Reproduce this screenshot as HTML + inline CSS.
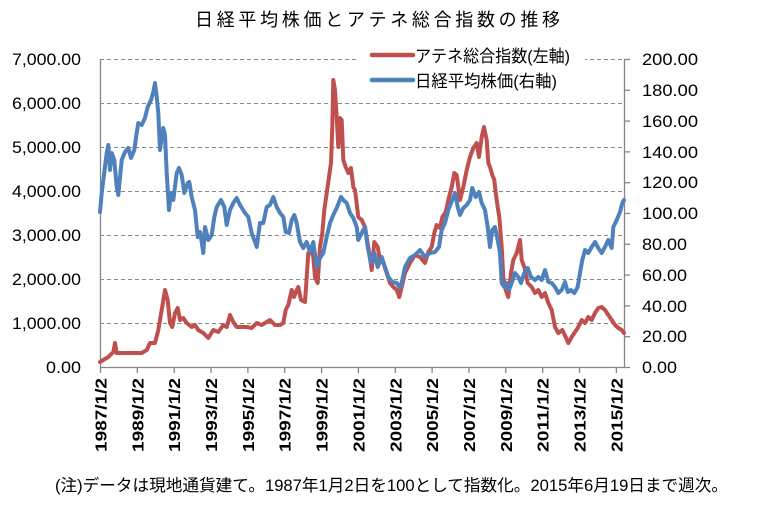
<!DOCTYPE html>
<html>
<head>
<meta charset="utf-8">
<style>
  html, body { margin:0; padding:0; background:#fff; }
  svg { display:block; }
  text { font-family: "Liberation Sans", "Noto Sans CJK JP", sans-serif; fill:#000; }
</style>
</head>
<body>
<svg width="762" height="509" viewBox="0 0 762 509" xmlns="http://www.w3.org/2000/svg">
  <rect x="0" y="0" width="762" height="509" fill="#fff"/>

  <!-- Title -->
  <text x="195" y="26" font-size="18" textLength="365" lengthAdjust="spacing">日経平均株価とアテネ総合指数の推移</text>

  <!-- Gridlines -->
  <g stroke="#888" stroke-width="1" stroke-dasharray="4,3">
    <line x1="100" y1="59.5" x2="624" y2="59.5"/>
    <line x1="100" y1="103.5" x2="624" y2="103.5"/>
    <line x1="100" y1="147.5" x2="624" y2="147.5"/>
    <line x1="100" y1="191.5" x2="624" y2="191.5"/>
    <line x1="100" y1="235.5" x2="624" y2="235.5"/>
    <line x1="100" y1="279.5" x2="624" y2="279.5"/>
    <line x1="100" y1="323.5" x2="624" y2="323.5"/>
  </g>

  <!-- Axes -->
  <g stroke="#868686" stroke-width="1.3">
    <line x1="100.5" y1="59" x2="100.5" y2="367"/>
    <line x1="624.5" y1="59" x2="624.5" y2="367"/>
    <line x1="100" y1="367.5" x2="624" y2="367.5"/>
    <!-- right ticks -->
    <line x1="624" y1="59.5" x2="630" y2="59.5"/>
    <line x1="624" y1="90.3" x2="630" y2="90.3"/>
    <line x1="624" y1="121.1" x2="630" y2="121.1"/>
    <line x1="624" y1="151.9" x2="630" y2="151.9"/>
    <line x1="624" y1="182.7" x2="630" y2="182.7"/>
    <line x1="624" y1="213.5" x2="630" y2="213.5"/>
    <line x1="624" y1="244.3" x2="630" y2="244.3"/>
    <line x1="624" y1="275.1" x2="630" y2="275.1"/>
    <line x1="624" y1="305.9" x2="630" y2="305.9"/>
    <line x1="624" y1="336.7" x2="630" y2="336.7"/>
    <line x1="624" y1="367.5" x2="630" y2="367.5"/>
    <!-- bottom ticks -->
    <line x1="100.5" y1="367" x2="100.5" y2="373"/>
    <line x1="137.3" y1="367" x2="137.3" y2="373"/>
    <line x1="174.2" y1="367" x2="174.2" y2="373"/>
    <line x1="211" y1="367" x2="211" y2="373"/>
    <line x1="247.9" y1="367" x2="247.9" y2="373"/>
    <line x1="284.7" y1="367" x2="284.7" y2="373"/>
    <line x1="321.6" y1="367" x2="321.6" y2="373"/>
    <line x1="358.4" y1="367" x2="358.4" y2="373"/>
    <line x1="395.3" y1="367" x2="395.3" y2="373"/>
    <line x1="432.1" y1="367" x2="432.1" y2="373"/>
    <line x1="469" y1="367" x2="469" y2="373"/>
    <line x1="505.8" y1="367" x2="505.8" y2="373"/>
    <line x1="542.7" y1="367" x2="542.7" y2="373"/>
    <line x1="579.5" y1="367" x2="579.5" y2="373"/>
    <line x1="616.4" y1="367" x2="616.4" y2="373"/>
  </g>

  <!-- Left labels -->
  <g font-size="16.5" text-anchor="end">
    <text x="81" y="65" textLength="69" lengthAdjust="spacingAndGlyphs">7,000.00</text>
    <text x="81" y="109" textLength="69" lengthAdjust="spacingAndGlyphs">6,000.00</text>
    <text x="81" y="153" textLength="69" lengthAdjust="spacingAndGlyphs">5,000.00</text>
    <text x="81" y="197" textLength="69" lengthAdjust="spacingAndGlyphs">4,000.00</text>
    <text x="81" y="241" textLength="69" lengthAdjust="spacingAndGlyphs">3,000.00</text>
    <text x="81" y="285" textLength="69" lengthAdjust="spacingAndGlyphs">2,000.00</text>
    <text x="81" y="329" textLength="69" lengthAdjust="spacingAndGlyphs">1,000.00</text>
    <text x="81" y="373" textLength="35" lengthAdjust="spacingAndGlyphs">0.00</text>
  </g>

  <!-- Right labels -->
  <g font-size="16.5">
    <text x="642" y="65" textLength="56" lengthAdjust="spacingAndGlyphs">200.00</text>
    <text x="642" y="96" textLength="56" lengthAdjust="spacingAndGlyphs">180.00</text>
    <text x="642" y="127" textLength="56" lengthAdjust="spacingAndGlyphs">160.00</text>
    <text x="642" y="158" textLength="56" lengthAdjust="spacingAndGlyphs">140.00</text>
    <text x="642" y="188" textLength="56" lengthAdjust="spacingAndGlyphs">120.00</text>
    <text x="642" y="219" textLength="56" lengthAdjust="spacingAndGlyphs">100.00</text>
    <text x="642" y="250" textLength="45" lengthAdjust="spacingAndGlyphs">80.00</text>
    <text x="642" y="281" textLength="45" lengthAdjust="spacingAndGlyphs">60.00</text>
    <text x="642" y="312" textLength="45" lengthAdjust="spacingAndGlyphs">40.00</text>
    <text x="642" y="342" textLength="45" lengthAdjust="spacingAndGlyphs">20.00</text>
    <text x="642" y="373" textLength="35" lengthAdjust="spacingAndGlyphs">0.00</text>
  </g>

  <!-- X labels -->
  <g font-size="16" font-weight="bold" text-anchor="end">
    <text transform="translate(106.5,378) rotate(-90)" textLength="74" lengthAdjust="spacingAndGlyphs">1987/1/2</text>
    <text transform="translate(143.3,378) rotate(-90)" textLength="74" lengthAdjust="spacingAndGlyphs">1989/1/2</text>
    <text transform="translate(180.2,378) rotate(-90)" textLength="74" lengthAdjust="spacingAndGlyphs">1991/1/2</text>
    <text transform="translate(217,378) rotate(-90)" textLength="74" lengthAdjust="spacingAndGlyphs">1993/1/2</text>
    <text transform="translate(253.9,378) rotate(-90)" textLength="74" lengthAdjust="spacingAndGlyphs">1995/1/2</text>
    <text transform="translate(290.7,378) rotate(-90)" textLength="74" lengthAdjust="spacingAndGlyphs">1997/1/2</text>
    <text transform="translate(327.6,378) rotate(-90)" textLength="74" lengthAdjust="spacingAndGlyphs">1999/1/2</text>
    <text transform="translate(364.4,378) rotate(-90)" textLength="74" lengthAdjust="spacingAndGlyphs">2001/1/2</text>
    <text transform="translate(401.3,378) rotate(-90)" textLength="74" lengthAdjust="spacingAndGlyphs">2003/1/2</text>
    <text transform="translate(438.1,378) rotate(-90)" textLength="74" lengthAdjust="spacingAndGlyphs">2005/1/2</text>
    <text transform="translate(475,378) rotate(-90)" textLength="74" lengthAdjust="spacingAndGlyphs">2007/1/2</text>
    <text transform="translate(511.8,378) rotate(-90)" textLength="74" lengthAdjust="spacingAndGlyphs">2009/1/2</text>
    <text transform="translate(548.7,378) rotate(-90)" textLength="74" lengthAdjust="spacingAndGlyphs">2011/1/2</text>
    <text transform="translate(585.5,378) rotate(-90)" textLength="74" lengthAdjust="spacingAndGlyphs">2013/1/2</text>
    <text transform="translate(622.4,378) rotate(-90)" textLength="74" lengthAdjust="spacingAndGlyphs">2015/1/2</text>
  </g>

  <!-- Red series (Athens) -->
  <polyline fill="none" stroke="#C0504D" stroke-width="4" stroke-linejoin="round" stroke-linecap="round"
    points="100,362 108.3,357 113.3,352 115,343 116.7,353 121.7,353 128.3,353 135,353 141.7,353 146.7,350 150,343 155,343 158.3,330 161.7,310 165,290 167.7,300 170,323 172.3,327 175,313 177.7,308 180,320 183.3,318 186.7,323 191.7,327 195,325 198.3,330 203.3,333 208.3,338 213.3,330 218.3,332 223.3,325 226.7,327 230,315 233.3,322 236.7,327 241.7,327 246.7,327 251.7,328 256.7,323 261.7,325 266.7,322 270,320 275,325 280,325 283.3,323 285.7,310 288.3,305 291.7,290 294,297 296.7,290 298.3,287 301,300 305,302 306.7,277 308.3,253 311,250 313.3,257 315,277 317.7,283 320,247 322.3,233 324.3,210 326.7,193 329,177 331,163 332.3,127 333.3,80 335,90 336.7,117 338.3,147 340,118 341.7,120 343.3,160 345.7,167 348.3,173 351,168 353.3,187 355,190 358.3,217 361.7,220 365,227 368.3,247 371.7,270 374.3,242 377.7,247 380,260 383.3,263 386.7,273 390,283 393.3,287 396.7,290 399.3,297 401.7,287 405,273 410,263 415,255 420,257 425,263 428.3,252 431.7,247 434.3,233 436.7,225 440,228 442.3,217 445.7,212 448.3,200 451.7,187 454.3,173 456.7,175 460,200 463.3,187 466.7,170 470,157 473.3,148 476.7,143 479,157 481.7,137 484,127 486.7,140 488.3,163 490,167 492.3,175 494.3,180 495.7,193 497.7,207 499.3,217 501.7,247 503.3,277 505.7,290 508.3,297 511,273 513.3,260 516.7,253 520,240 521.7,260 524.3,267 527.7,283 531.7,287 535,293 538.3,290 541.7,297 545,293 548.3,303 551.7,310 555,327 558.3,333 562.3,330 565.7,337 568.3,343 571.7,337 575,332 578.3,327 581.7,320 585,323 588.3,317 591.7,320 595,313 598.3,308 601.7,307 605,310 608.3,315 611.7,320 615,325 618.3,328 621.7,330 624,333"/>

  <!-- Blue series (Nikkei) -->
  <polyline fill="none" stroke="#4F81BD" stroke-width="4" stroke-linejoin="round" stroke-linecap="round"
    points="100,212 101.7,193 106.7,153 108.3,145 110,170 111.7,153 114.3,160 116.7,187 118.3,195 121.7,160 125,152 128.3,148 131,158 134.3,150 136.7,133 138.3,123 141.7,125 145,118 147.7,107 151,100 153.3,92 155,83 156.7,97 158.3,113 160,150 161.7,138 163.3,128 165,135 166.7,173 169,210 171,193 173.3,200 176.7,173 179,168 181.7,175 184.3,193 187.7,183 189.3,182 191.7,197 195,210 197.7,237 200,232 201.7,242 203.3,253 205,227 208.3,240 211.7,235 214.3,217 216.7,207 221,200 224.3,207 226.7,225 230,210 233.3,203 236.7,198 240,205 245,213 248.3,217 251.7,233 255,242 256.7,247 260,223 263.3,223 266.7,207 270,205 273.3,197 276.7,207 280,213 283.3,217 285.7,232 289,233 291.7,220 294.3,215 296.7,223 300,242 303.3,248 306.7,242 310,252 313.3,242 316.7,267 320,258 323.3,253 326.7,237 330,223 333.3,215 336.7,208 341,197 343.3,200 346.7,203 350,213 353.3,218 356.7,227 358.3,240 361.7,233 365,227 367.7,247 371,263 374.3,253 377.7,267 381.7,257 385,267 388.3,277 392.3,282 396.7,283 400,288 402.3,280 405,267 410,258 415,255 420,250 425,257 430,253 435,252 439,247 441.7,230 445,223 448.3,210 452.3,200 455,193 457.7,207 460,215 463.3,208 466.7,205 470,200 472.3,188 475.7,197 479,192 481.7,203 485,210 487.7,227 490,247 492.3,230 495,227 497.7,240 500,253 501.7,283 504.3,287 506.7,283 509,290 511.7,283 515,273 518.3,277 521,283 524.3,273 527.7,268 531,277 535,280 538.3,277 541.7,280 545,270 548.3,282 551.7,283 555,287 558.3,293 561.7,290 565,282 567.7,292 571,290 574.3,293 577.7,287 580,273 582.3,260 585,250 588.3,253 591.7,247 595,242 598.3,248 601.7,253 605,247 608.3,240 611.7,248 613.3,227 616.7,220 620,212 622.3,203 624,200"/>

  <!-- Legend -->
  <rect x="358" y="42" width="227" height="50" fill="#fff"/>
  <line x1="372" y1="55" x2="413" y2="55" stroke="#C0504D" stroke-width="4.5" stroke-linecap="round"/>
  <line x1="372" y1="80" x2="413" y2="80" stroke="#4F81BD" stroke-width="4.5" stroke-linecap="round"/>
  <text x="415" y="62" font-size="17" textLength="155" lengthAdjust="spacingAndGlyphs">アテネ総合指数(左軸)</text>
  <text x="415" y="87" font-size="17" textLength="142" lengthAdjust="spacingAndGlyphs">日経平均株価(右軸)</text>

  <!-- Footnote -->
  <text x="55" y="491" font-size="16.5" textLength="673" lengthAdjust="spacingAndGlyphs">(注)データは現地通貨建て。1987年1月2日を100として指数化。2015年6月19日まで週次。</text>
</svg>
</body>
</html>
